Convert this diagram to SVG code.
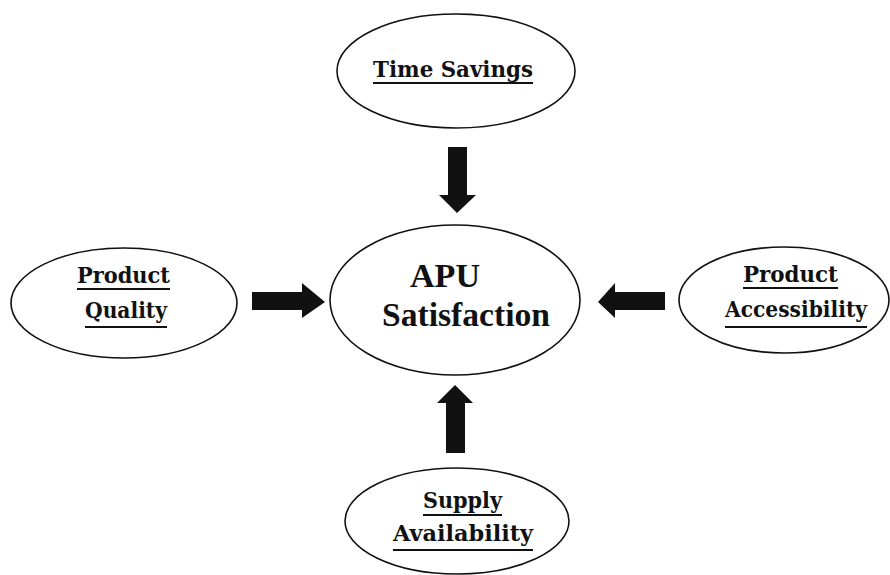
<svg xmlns="http://www.w3.org/2000/svg" width="890" height="575" viewBox="0 0 890 575">
<style>
.node ellipse{fill:#fff;stroke:#111;stroke-width:1.6}
.lbl{font-family:"DejaVu Serif","Liberation Serif",serif;font-weight:bold;font-size:22px;fill:#111}
.ul{stroke:#111;stroke-width:2}
.ctr{font-family:"Liberation Serif","Times New Roman",serif;font-weight:bold;font-size:34px;fill:#111}
.arr{fill:#111}
</style>
<rect width="890" height="575" fill="#fff"/>
<g id="time-savings" class="node">
<ellipse cx="456" cy="71" rx="119" ry="57"/>
<text class="lbl" x="373" y="77" textLength="160" lengthAdjust="spacingAndGlyphs">Time Savings</text>
<line class="ul" x1="373" y1="83" x2="533" y2="83"/>
</g>
<g id="apu-satisfaction" class="node">
<ellipse cx="455" cy="300" rx="125" ry="75"/>
<text class="ctr" x="410" y="287" textLength="70" lengthAdjust="spacingAndGlyphs">APU</text>
<text class="ctr" x="382" y="326" textLength="168" lengthAdjust="spacingAndGlyphs">Satisfaction</text>
</g>
<g id="product-quality" class="node">
<ellipse cx="124" cy="303" rx="113" ry="55"/>
<text class="lbl" x="77" y="283" textLength="93" lengthAdjust="spacingAndGlyphs">Product</text>
<line class="ul" x1="77" y1="289" x2="170" y2="289"/>
<text class="lbl" x="85" y="318" textLength="82" lengthAdjust="spacingAndGlyphs">Quality</text>
<line class="ul" x1="85" y1="327" x2="167" y2="327"/>
</g>
<g id="product-accessibility" class="node">
<ellipse cx="784" cy="300" rx="105" ry="53"/>
<text class="lbl" x="743" y="282" textLength="95" lengthAdjust="spacingAndGlyphs">Product</text>
<line class="ul" x1="743" y1="288" x2="838" y2="288"/>
<text class="lbl" x="725" y="317" textLength="142" lengthAdjust="spacingAndGlyphs">Accessibility</text>
<line class="ul" x1="725" y1="327" x2="867" y2="327"/>
</g>
<g id="supply-availability" class="node">
<ellipse cx="457" cy="521" rx="112" ry="53"/>
<text class="lbl" x="423" y="508" textLength="79" lengthAdjust="spacingAndGlyphs">Supply</text>
<line class="ul" x1="423" y1="515" x2="502" y2="515"/>
<text class="lbl" x="393" y="541" textLength="140" lengthAdjust="spacingAndGlyphs">Availability</text>
<line class="ul" x1="393" y1="550" x2="533" y2="550"/>
</g>
<g id="connectors">
<polygon class="arr" points="448,147 467,147 467,195 476,195 457,213 439,195 448,195"/>
<polygon class="arr" points="446,453 465,453 465,403 473,403 455,385 437,403 446,403"/>
<polygon class="arr" points="252,292 302,292 302,283 325,302 302,318 302,310 252,310"/>
<polygon class="arr" points="665,292 615,292 615,283 598,302 615,318 615,310 665,310"/>
</g>
</svg>
